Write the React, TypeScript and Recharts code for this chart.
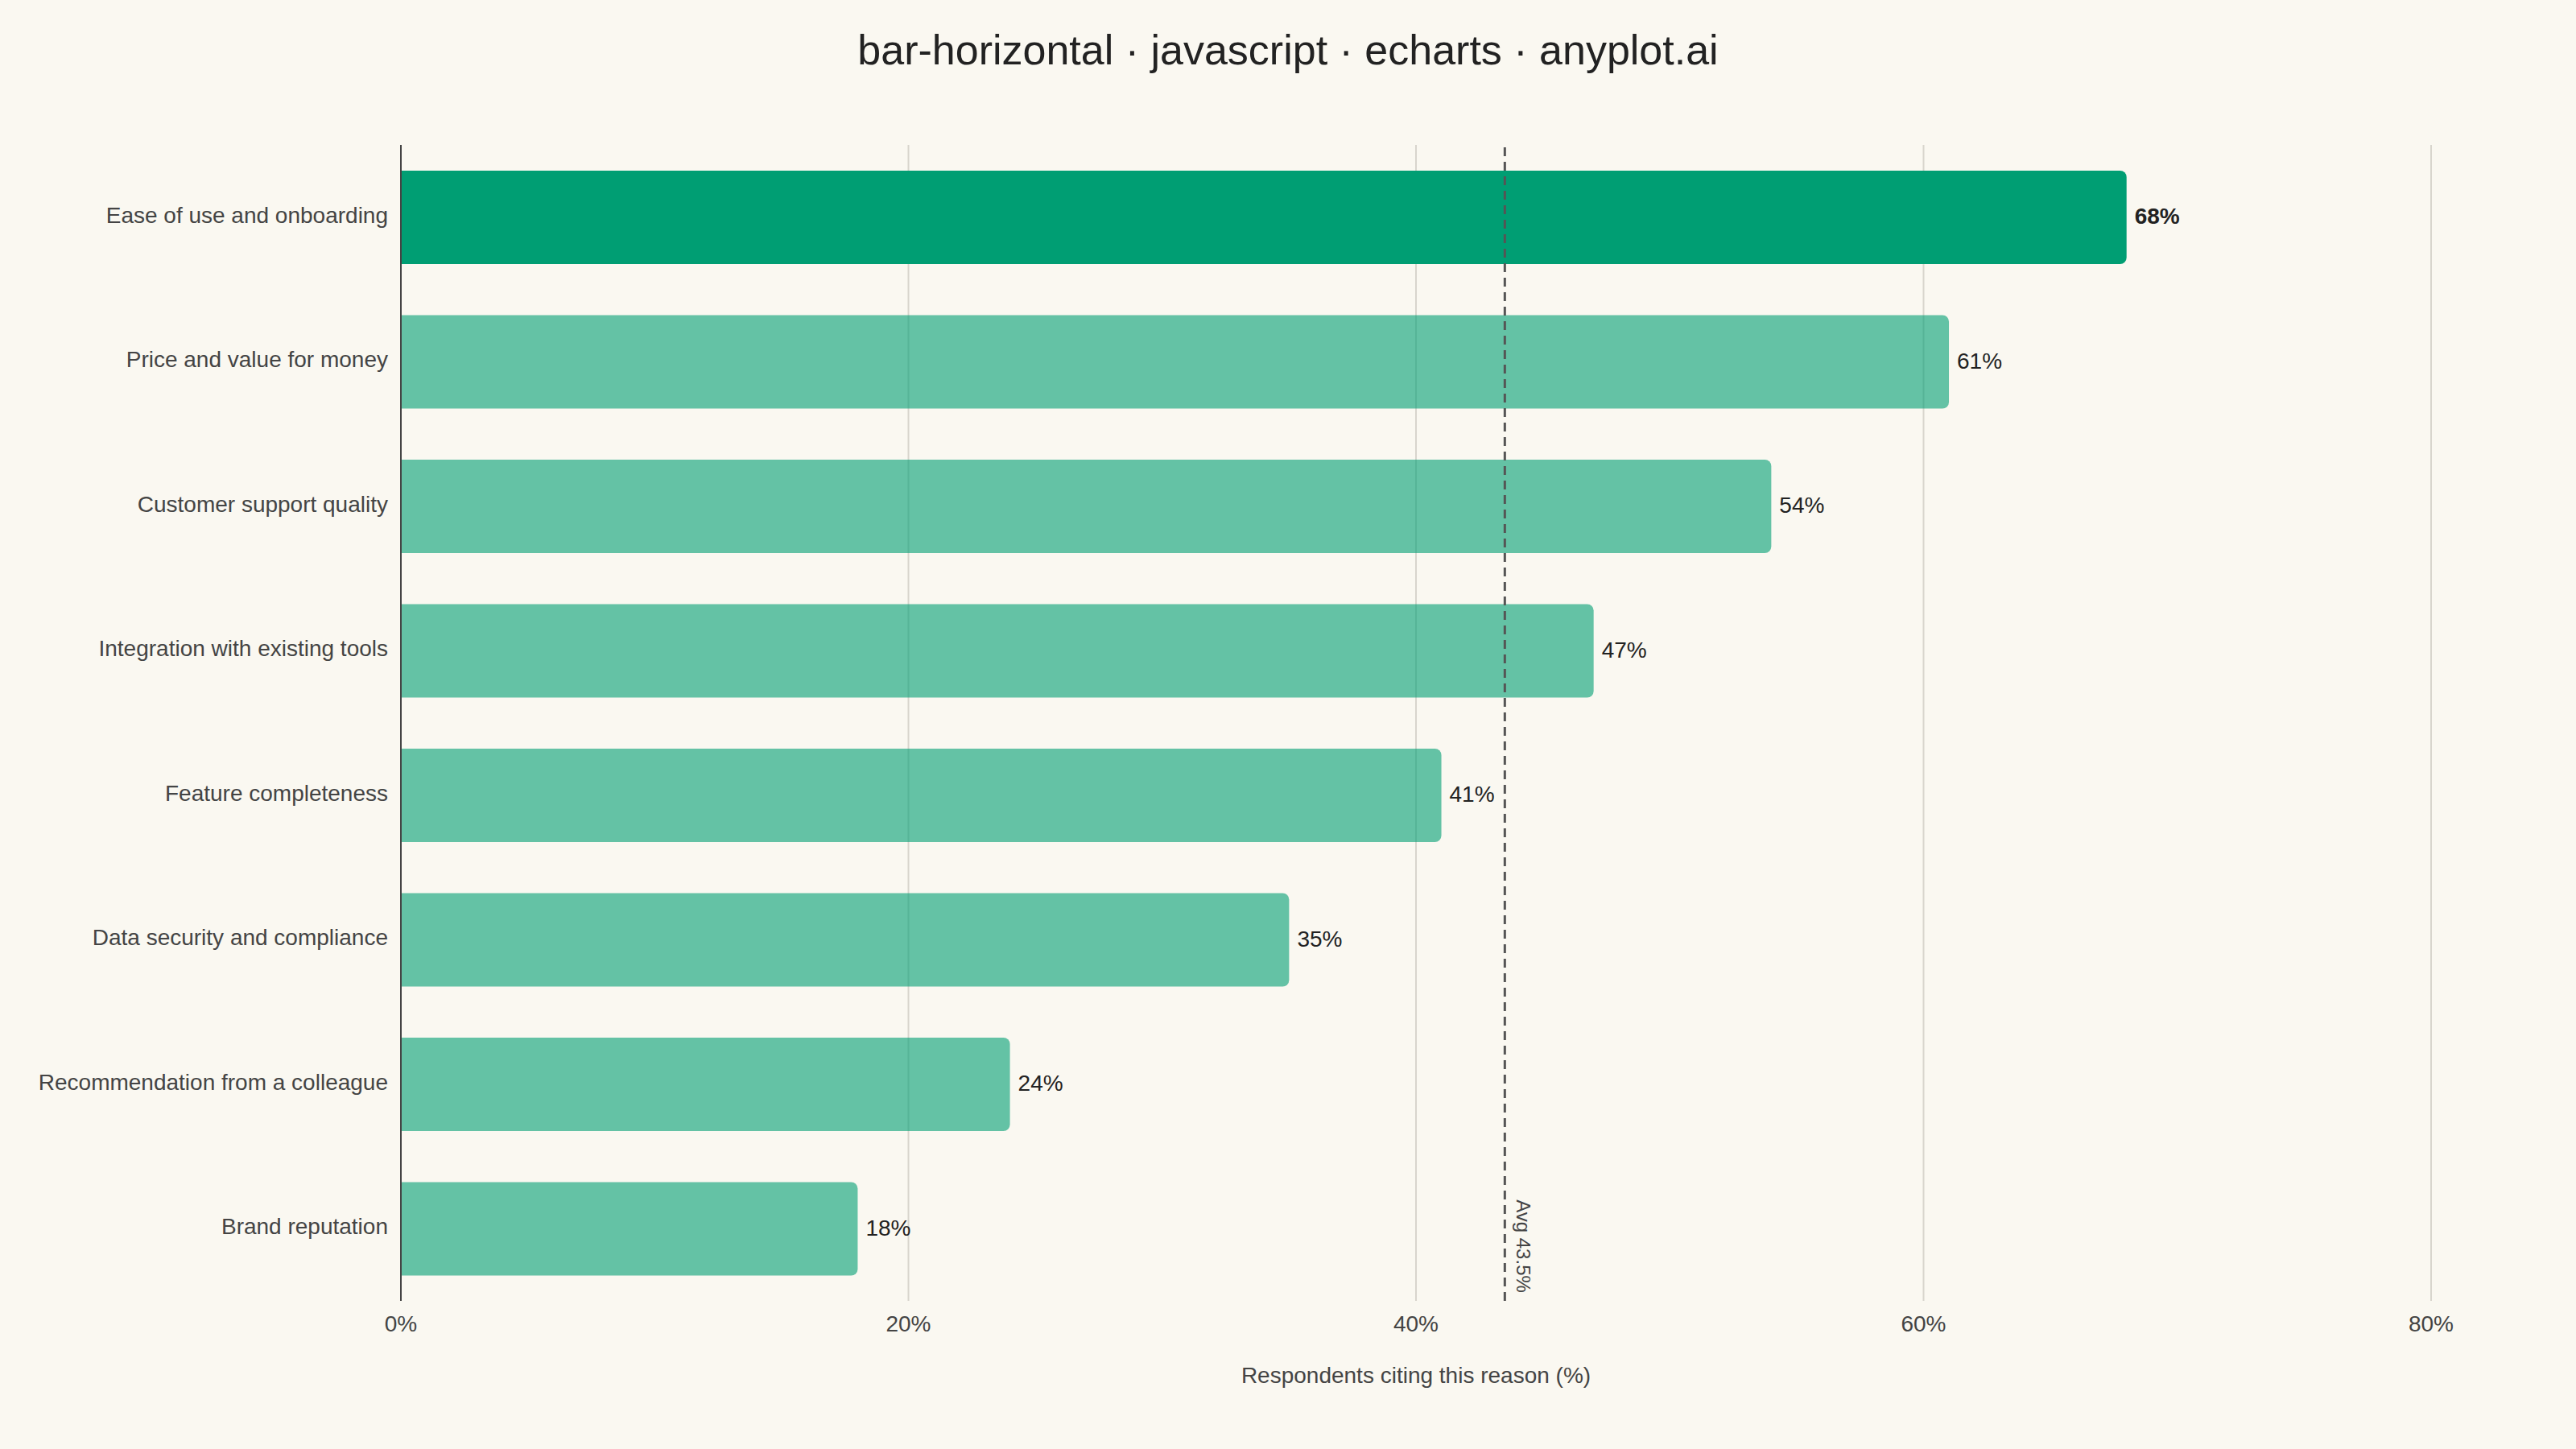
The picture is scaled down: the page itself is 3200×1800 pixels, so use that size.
import { BarChart, Bar, XAxis, YAxis, CartesianGrid, ReferenceLine, Cell, LabelList, Label } from 'recharts';

const reasons = [
  'Ease of use and onboarding',
  'Price and value for money',
  'Customer support quality',
  'Integration with existing tools',
  'Feature completeness',
  'Data security and compliance',
  'Recommendation from a colleague',
  'Brand reputation',
];
const shares = [68, 61, 54, 47, 41, 35, 24, 18];
const xTicks = [0, 20, 40, 60, 80];
const average = 43.5;

const data = reasons.map((name, i) => ({ name, value: shares[i] }));

const FONT = '"Liberation Sans", Arial, sans-serif';
const GREEN = '#009E73';

function CategoryTick(props: any) {
  const { x, y, payload } = props;
  return (
    <text x={x} y={y + 7} textAnchor="end" fontSize={28} fontFamily={FONT} fill="#444">
      {payload.value}
    </text>
  );
}

function ValueLabel(props: any) {
  const { x, y, width, height, value, index } = props;
  return (
    <text
      x={x + width + 10}
      y={y + height / 2 + 8}
      fontSize={28}
      fontFamily={FONT}
      fontWeight={index === 0 ? 700 : 400}
      fill="#222"
    >
      {`${value}%`}
    </text>
  );
}

function AvgLabel(props: any) {
  const { viewBox } = props;
  const cx = viewBox.x + 23;
  const cy = viewBox.y + viewBox.height - 68;
  return (
    <text
      x={cx}
      y={cy}
      textAnchor="middle"
      dominantBaseline="central"
      fontSize={24}
      fontFamily={FONT}
      fill="#444"
      transform={`rotate(90, ${cx}, ${cy})`}
    >
      {`Avg ${average}%`}
    </text>
  );
}

export default function App() {
  return (
    <div
      style={{
        position: 'absolute',
        left: 0,
        top: 0,
        width: 3200,
        height: 1800,
        background: '#FAF8F1',
        fontFamily: FONT,
      }}
    >
      <div
        style={{
          position: 'absolute',
          top: 0,
          left: 0,
          width: 3200,
          textAlign: 'center',
          fontSize: 52,
          lineHeight: '124px',
          color: '#222',
        }}
      >
        bar-horizontal · javascript · echarts · anyplot.ai
      </div>
      <BarChart
        width={3200}
        height={1800}
        data={data}
        layout="vertical"
        margin={{ top: 180, right: 180, bottom: 74, left: 0 }}
        style={{ position: 'absolute', left: 0, top: 0 }}
      >
        <CartesianGrid horizontal={false} stroke="#d8d5cd" strokeWidth={2} />
        <XAxis
          type="number"
          domain={[0, 80]}
          ticks={xTicks}
          tickFormatter={(v) => `${v}%`}
          axisLine={false}
          tickLine={false}
          tickMargin={12}
          height={110}
          tick={{ fill: '#444', fontSize: 28, fontFamily: FONT }}
        >
          <Label
            value="Respondents citing this reason (%)"
            position="insideBottom"
            offset={8}
            fill="#444"
            fontSize={28}
            fontFamily={FONT}
          />
        </XAxis>
        <YAxis
          type="category"
          dataKey="name"
          width={498}
          axisLine={{ stroke: '#444', strokeWidth: 2 }}
          tickLine={false}
          tickMargin={10}
          interval={0}
          tick={<CategoryTick />}
        />
        <Bar dataKey="value" barSize={116} radius={[0, 8, 8, 0]} isAnimationActive={false}>
          {data.map((d, i) => (
            <Cell key={d.name} fill={GREEN} fillOpacity={i === 0 ? 1 : 0.6} />
          ))}
          <LabelList dataKey="value" content={<ValueLabel />} />
        </Bar>
        <ReferenceLine
          x={average}
          stroke="#555"
          strokeWidth={3}
          strokeDasharray="11 7"
          ifOverflow="visible"
          label={<AvgLabel />}
        />
      </BarChart>
    </div>
  );
}
